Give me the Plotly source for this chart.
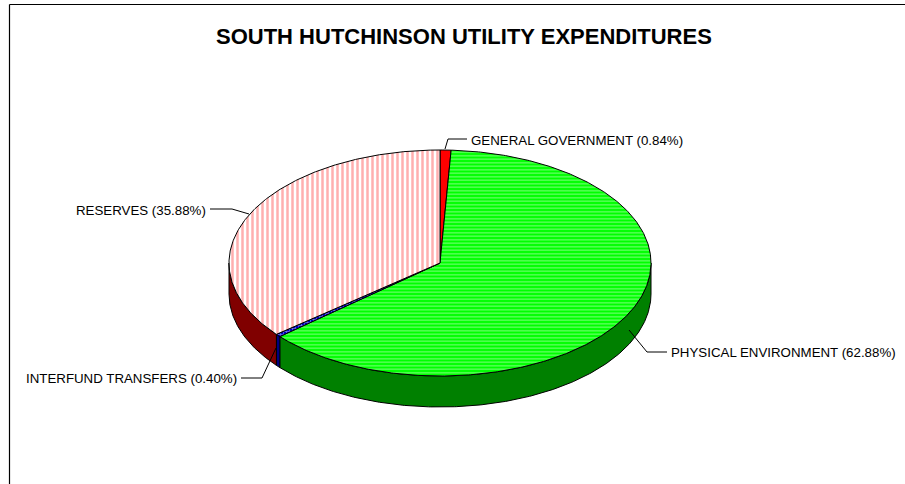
import numpy as np
import plotly.graph_objects as go

# ---- data ----
categories = ["GENERAL GOVERNMENT", "PHYSICAL ENVIRONMENT", "INTERFUND TRANSFERS", "RESERVES"]
percents = [0.84, 62.88, 0.40, 35.88]
title_text = "SOUTH HUTCHINSON UTILITY EXPENDITURES"

# ---- styles ----
top_styles = [
    dict(fillcolor="#FF0000", fillpattern=None),
    dict(fillcolor="#00FF00", fillpattern=dict(shape="-", fgcolor="#FFFFFF", bgcolor="#00FF00", size=3.5, solidity=0.3)),
    dict(fillcolor="#0000CC", fillpattern=dict(shape="+", fgcolor="#FFFFFF", bgcolor="#0000CC", size=3, solidity=0.4)),
    dict(fillcolor="#FFFFFF", fillpattern=dict(shape="|", fgcolor="#FF6060", bgcolor="#FFFFFF", size=5, solidity=0.5)),
]
side_colors = ["#800000", "#008000", "#000080", "#800000"]

# label placement (positions only)
label_pos = [
    dict(x=469, y=140, anchor="left", line=[(445, 149), (448, 139), (467, 139)]),
    dict(x=669, y=352, anchor="left", line=[(629, 330), (647, 352), (667, 352)]),
    dict(x=239, y=378, anchor="right", line=[(276, 348), (262, 378), (241, 378)]),
    dict(x=208, y=210, anchor="right", line=[(249, 214), (232, 209), (210, 209)]),
]

CX, CY, A, B, DEPTH = 440.0, 263.0, 211.0, 113.0, 31.0


def ell(f, dy=0.0):
    t = 2 * np.pi * np.asarray(f)
    return CX + A * np.sin(t), CY - B * np.cos(t) + dy


fig = go.Figure()

fracs = np.array(percents) / sum(percents)
starts = np.concatenate([[0.0], np.cumsum(fracs)[:-1]])
ends = np.cumsum(fracs)

# side walls (only the front half, 0.25 .. 0.75 of a turn clockwise from top)
for i in range(len(categories)):
    f0, f1 = max(starts[i], 0.25), min(ends[i], 0.75)
    if f1 <= f0:
        continue
    ff = np.linspace(f0, f1, max(3, int((f1 - f0) * 720)))
    xu, yu = ell(ff)
    xl, yl = ell(ff[::-1], DEPTH)
    xs = np.concatenate([xu, xl, xu[:1]])
    ys = np.concatenate([yu, yl, yu[:1]])
    fig.add_trace(go.Scatter(x=xs, y=ys, mode="lines", fill="toself",
                             fillcolor=side_colors[i],
                             line=dict(color="#000000", width=1),
                             hoverinfo="skip", showlegend=False))

# top faces
for i in range(len(categories)):
    ff = np.linspace(starts[i], ends[i], max(3, int(fracs[i] * 720)))
    xa, ya = ell(ff)
    xs = np.concatenate([[CX], xa, [CX]])
    ys = np.concatenate([[CY], ya, [CY]])
    st = top_styles[i]
    kw = dict(fillcolor=st["fillcolor"])
    if st["fillpattern"] is not None:
        kw["fillpattern"] = st["fillpattern"]
    fig.add_trace(go.Scatter(x=xs, y=ys, mode="lines", fill="toself",
                             line=dict(color="#000000", width=1),
                             hoverinfo="skip", showlegend=False, **kw))

# leader lines and labels
for i, cat in enumerate(categories):
    lp = label_pos[i]
    lx, ly = zip(*lp["line"])
    fig.add_trace(go.Scatter(x=list(lx), y=list(ly), mode="lines",
                             line=dict(color="#000000", width=1),
                             hoverinfo="skip", showlegend=False))
    fig.add_annotation(x=lp["x"], y=lp["y"], xref="x", yref="y",
                       text=f"{cat} ({percents[i]:.2f}%)", showarrow=False,
                       xanchor=lp["anchor"], yanchor="middle",
                       font=dict(family="Liberation Sans, Arial", size=13.3, color="#000000"))

fig.add_annotation(x=464, y=36, xref="x", yref="y", text=f"<b>{title_text}</b>",
                   showarrow=False, xanchor="center", yanchor="middle",
                   font=dict(family="Liberation Sans, Arial", size=22, color="#000000"))

# chart area border (top and left edges visible in the crop)
fig.add_shape(type="line", xref="x", yref="y", x0=9.5, y0=4.5, x1=930, y1=4.5,
              line=dict(color="#000000", width=1.2))
fig.add_shape(type="line", xref="x", yref="y", x0=9.5, y0=4.5, x1=9.5, y1=500,
              line=dict(color="#000000", width=1.2))

fig.update_layout(
    width=905, height=484,
    margin=dict(l=0, r=0, t=0, b=0),
    paper_bgcolor="#FFFFFF", plot_bgcolor="#FFFFFF",
    xaxis=dict(range=[0, 905], visible=False, fixedrange=True),
    yaxis=dict(range=[484, 0], visible=False, fixedrange=True),
    showlegend=False,
)

fig.write_html(
    "out.html",
    config={"displayModeBar": False},
    post_script="document.body.style.margin='0';document.body.style.overflow='hidden';",
)
